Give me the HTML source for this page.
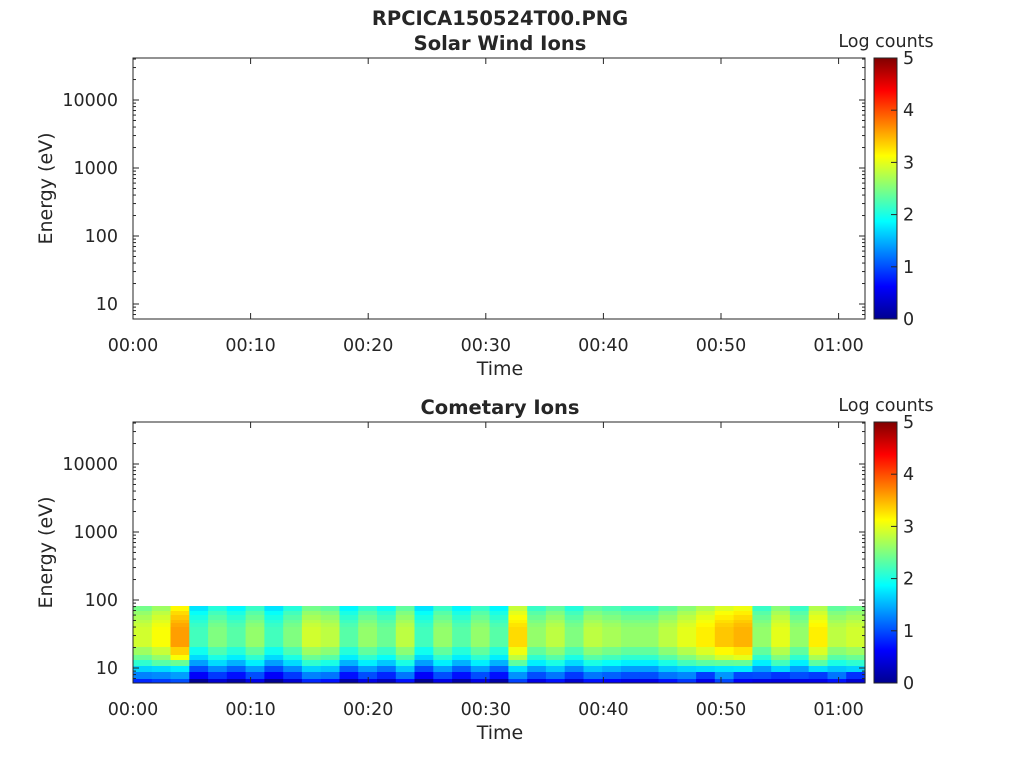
<!DOCTYPE html>
<html><head><meta charset="utf-8"><style>
body{margin:0;background:#fff;width:1024px;height:768px;overflow:hidden}
svg text{font-family:"DejaVu Sans","Liberation Sans",sans-serif;fill:#262626}
</style></head><body>
<svg id="s" width="1024" height="768" xmlns="http://www.w3.org/2000/svg">
<defs><linearGradient id="jet" x1="0" y1="1" x2="0" y2="0">
<stop offset="0" stop-color="#00008f"/><stop offset="0.125" stop-color="#0000ff"/><stop offset="0.375" stop-color="#00ffff"/><stop offset="0.625" stop-color="#ffff00"/><stop offset="0.875" stop-color="#ff0000"/><stop offset="1" stop-color="#800000"/></linearGradient></defs>
<text x="500" y="25" text-anchor="middle" font-weight="bold" font-size="19.5">RPCICA150524T00.PNG</text>
<g id="spec"></g>
<g id="axes"></g>
</svg>
<script>
const NS="http://www.w3.org/2000/svg";
const ax=document.getElementById('axes'),sp=document.getElementById('spec');
function el(t,a,p){const e=document.createElementNS(NS,t);for(const k in a)e.setAttribute(k,a[k]);(p||ax).appendChild(e);return e}
function txt(x,y,s,a){const e=el('text',Object.assign({x:x,y:y},a||{}));e.textContent=s;return e}
function jet(v){let t=Math.max(0,Math.min(1,v/5));
 function c(x){return Math.max(0,Math.min(1,1.5-Math.abs(4*t-x)))}
 return `rgb(${Math.round(255*c(3))},${Math.round(255*c(2))},${Math.round(255*c(1))})`}
function panel(top,title){
 const L=133,R=865,B=top+261;
 el('rect',{x:L,y:top,width:R-L,height:B-top,fill:'none',stroke:'#262626','stroke-width':1});
 txt(500,top-8,title,{'text-anchor':'middle','font-weight':'bold','font-size':19.5});
 const y10=top+246;
 const yv=v=>y10-68*Math.log10(v/10);
 [[10,'10'],[100,'100'],[1000,'1000'],[10000,'10000']].forEach(([v,s])=>{
  const y=yv(v);el('line',{x1:L,x2:L+6,y1:y,y2:y,stroke:'#262626'});el('line',{x1:R,x2:R-6,y1:y,y2:y,stroke:'#262626'});
  txt(L-15,y+6,s,{'text-anchor':'end','font-size':17.5});});
 for(let d=1;d<=5;d++)for(let m=2;m<10;m++){const y=yv(m*Math.pow(10,d-1));if(y>top&&y<B){el('line',{x1:L,x2:L+3,y1:y,y2:y,stroke:'#262626'});el('line',{x1:R,x2:R-3,y1:y,y2:y,stroke:'#262626'});}}
 const labs=['00:00','00:10','00:20','00:30','00:40','00:50','01:00'];
 labs.forEach((s,i)=>{const x=L+i*117.6;el('line',{x1:x,x2:x,y1:B,y2:B-6,stroke:'#262626'});el('line',{x1:x,x2:x,y1:top,y2:top+6,stroke:'#262626'});txt(x,B+32,s,{'text-anchor':'middle','font-size':17.5});});
 txt(500,B+56,'Time',{'text-anchor':'middle','font-size':19});
 const t=el('text',{x:0,y:0,'text-anchor':'middle','font-size':19,transform:`translate(52,${(top+B)/2}) rotate(-90)`});t.textContent='Energy (eV)';
 el('rect',{x:874,y:top,width:23,height:261,fill:'url(#jet)',stroke:'#262626'});
 for(let i=0;i<=5;i++){const y=B-i*52.2;el('line',{x1:897,x2:891,y1:y,y2:y,stroke:'#262626'});txt(903,y+6,String(i),{'font-size':17.5});}
 txt(886,top-11,'Log counts',{'text-anchor':'middle','font-size':17.5});
}
const peaks=[2.9,3.1,3.6,2.2,2.5,2.3,2.6,2.2,2.5,2.9,2.8,2.3,2.6,2.4,2.8,2.2,2.6,2.3,2.6,2.3,3.3,2.6,2.8,2.5,2.8,2.7,2.6,2.6,2.8,3.0,3.2,3.4,3.5,2.6,3.0,2.6,3.2,2.8,2.9];
const rows=[606,611,615,620,623,627,636,647,655,660,666,672,679,683];
const off=[0.45,0.3,0.2,0.12,0.05,0.0,0.0,0.25,0.5,0.8,1.2,1.6,2.1];
const fl=[2.2,1.6,1.2,0.8];
const cw=732/peaks.length;
peaks.forEach((p,i)=>{for(let r=0;r<rows.length-1;r++){
 let v=p-off[r]; if(r>=9){v=Math.min(v,fl[r-9]+(p-2.6)*0.2);}
 if(r>=11&&i>=29&&i%2==0)v-=0.4;
 const x=133+i*cw;
 el('rect',{x:x.toFixed(1),y:rows[r],width:(cw+0.6).toFixed(1),height:rows[r+1]-rows[r],fill:jet(v)},sp);
}});
panel(58,'Solar Wind Ions');
panel(422,'Cometary Ions');
</script>
</body></html>
